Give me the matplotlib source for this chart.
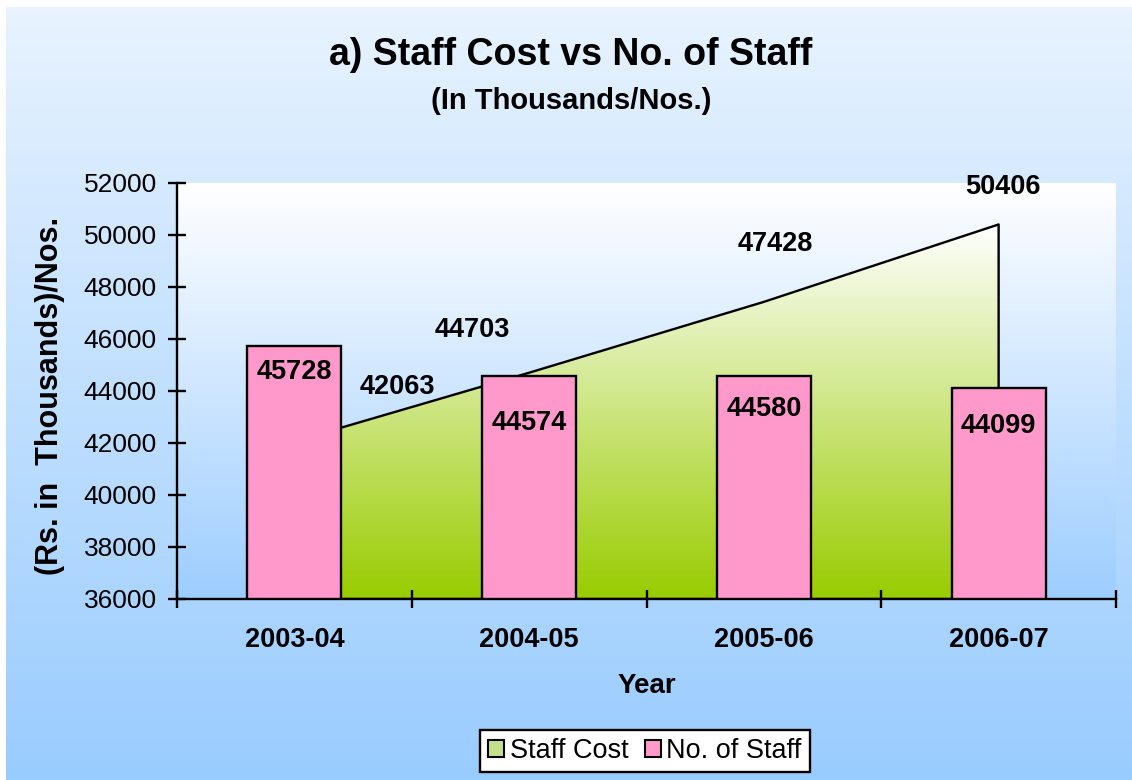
import numpy as np
import matplotlib
matplotlib.use("Agg")
import matplotlib.pyplot as plt
from matplotlib.colors import LinearSegmentedColormap
from matplotlib.patches import Patch

plt.rcParams["font.family"] = ["Liberation Sans", "DejaVu Sans"]

years = ["2003-04", "2004-05", "2005-06", "2006-07"]
staff_cost = [42063, 44703, 47428, 50406]
staff_nos = [45728, 44574, 44580, 44099]

# label offsets in points (hand placed like the original)
cost_offsets = [(74, 39), (-41, 31), (8, 42), (3, 27)]
nos_offsets = [(0, -19), (0, -34), (0, -24), (0, -27)]

W, H = 1132, 780
fig = plt.figure(figsize=(W / 100, H / 100), dpi=100)
fig.patch.set_facecolor("white")

# ── figure background gradient ───────────────────────────────────────
bg = fig.add_axes([6 / W, 0, 1 - 6 / W, 1 - 7 / H], zorder=-10)
bg_cmap = LinearSegmentedColormap.from_list("bg", ["#99ccff", "#e8f3fe"])
bg.imshow(np.linspace(0, 1, 256).reshape(-1, 1), aspect="auto", cmap=bg_cmap,
          origin="lower", extent=[0, 1, 0, 1])
bg.axis("off")

# ── main axes ────────────────────────────────────────────────────────
ax = fig.add_axes([177 / W, 1 - 599 / H, (1116 - 177) / W, (599 - 183) / H])
ax.patch.set_alpha(0)
x = np.arange(len(years))

# plot area gradient
pa_cmap = LinearSegmentedColormap.from_list("pa", ["#9dcdff", "#ffffff"])
ax.imshow(np.linspace(0, 1, 256).reshape(-1, 1), aspect="auto", cmap=pa_cmap,
          origin="lower", extent=[-0.5, 3.5, 36000, 52000], zorder=0)

# area (staff cost) with green gradient
poly = ax.fill_between(x, staff_cost, 36000, facecolor="none",
                       edgecolor="black", lw=1.7, zorder=2)
area_cmap = LinearSegmentedColormap.from_list("area", ["#99cc00", "#ffffff"])
grad = ax.imshow(np.linspace(0, 1, 256).reshape(-1, 1), aspect="auto",
                 cmap=area_cmap, origin="lower",
                 extent=[x[0], x[-1], 36000, max(staff_cost)], zorder=1)
grad.set_clip_path(poly.get_paths()[0], transform=ax.transData)

# bars (no. of staff)
ax.bar(x, staff_nos, width=0.4, bottom=0, color="#ff99cc",
       edgecolor="black", lw=1.7, zorder=3)

ax.set_xlim(-0.5, 3.5)
ax.set_ylim(36000, 52000)

# data labels
for xi, v, off in zip(x, staff_cost, cost_offsets):
    ax.annotate(f"{v}", (xi, v), xytext=off, textcoords="offset points",
                ha="center", va="center", fontsize=19.5, fontweight="bold", zorder=5)
for xi, v, off in zip(x, staff_nos, nos_offsets):
    ax.annotate(f"{v}", (xi, v), xytext=off, textcoords="offset points",
                ha="center", va="center", fontsize=19.5, fontweight="bold", zorder=5)

# axes styling
for s in ["top", "right"]:
    ax.spines[s].set_visible(False)
for s in ["left", "bottom"]:
    ax.spines[s].set_linewidth(1.7)
    ax.spines[s].set_zorder(4)

ax.set_yticks(np.arange(36000, 52001, 2000))
ax.tick_params(axis="y", direction="inout", length=13, width=1.7,
               labelsize=19, pad=8)
ax.set_xticks(np.arange(-0.5, 3.6, 1))
ax.set_xticklabels([])
ax.set_xticks(x, minor=True)
ax.set_xticklabels(years, minor=True, fontsize=19.5, fontweight="bold")
ax.tick_params(axis="x", which="major", direction="inout", length=13, width=1.7)
ax.tick_params(axis="x", which="minor", length=0, pad=20)

ax.set_xlabel("Year", fontsize=20, fontweight="bold")
ax.xaxis.set_label_coords(0.5, -(673 - 599) / 416)

fig.text(50 / W, 1 - 396 / H, "(Rs. in  Thousands)/Nos.", rotation=90,
         ha="center", va="center", fontsize=22, fontweight="bold")

# titles
fig.text(571 / W, 1 - 55 / H, "a) Staff Cost vs No. of Staff", ha="center",
         va="center", fontsize=27, fontweight="bold")
fig.text(571 / W, 1 - 101 / H, "(In Thousands/Nos.)", ha="center",
         va="center", fontsize=21, fontweight="bold")

# legend
handles = [Patch(facecolor="#c5e08a", edgecolor="black", lw=1.5, label="Staff Cost"),
           Patch(facecolor="#ff99cc", edgecolor="black", lw=1.5, label="No. of Staff")]
leg = fig.legend(handles=handles, loc="center", bbox_to_anchor=(645 / W, 1 - 751 / H),
                 ncol=2, fontsize=19.5, frameon=True, fancybox=False,
                 handlelength=0.6, handleheight=0.6, handletextpad=0.2,
                 columnspacing=0.6, borderpad=0.3, borderaxespad=0)
leg.get_frame().set_edgecolor("black")
leg.get_frame().set_linewidth(1.7)
leg.get_frame().set_facecolor("white")
leg.get_frame().set_alpha(1)

fig.savefig("out.png", dpi=100)
